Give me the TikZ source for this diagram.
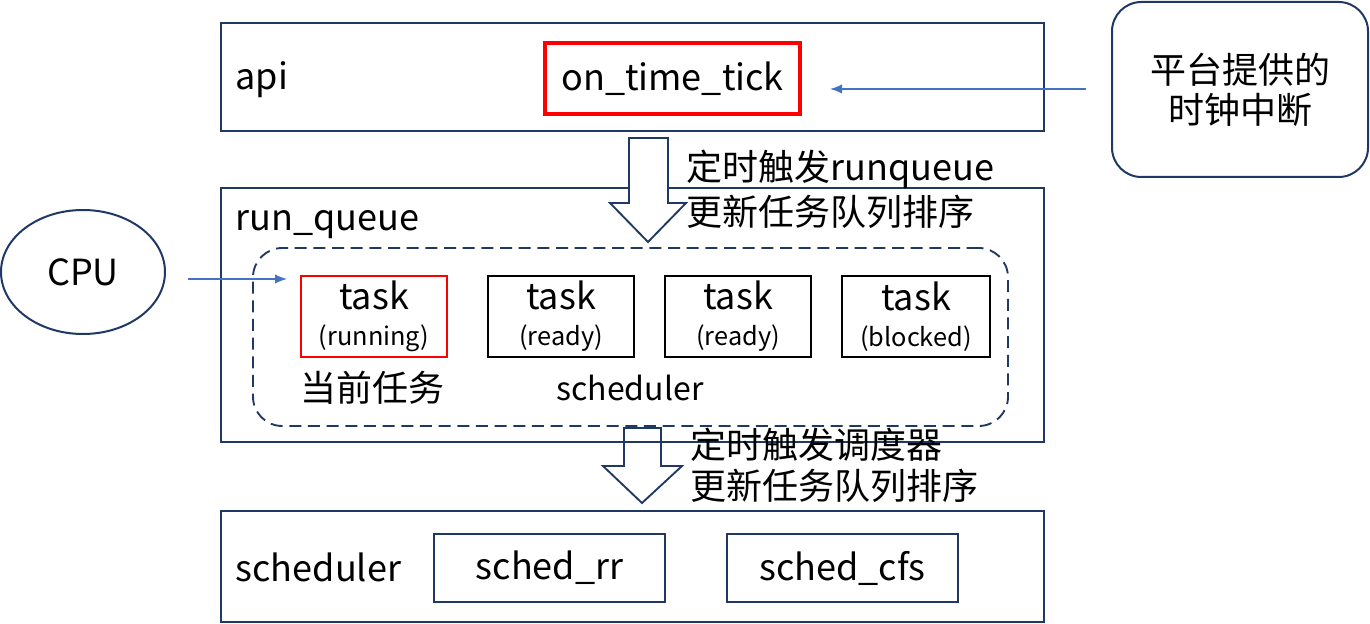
\documentclass[tikz,border=0pt]{standalone}
\usepackage{fontspec}
\setmainfont{Noto Sans CJK SC}
\usetikzlibrary{shapes.geometric,arrows.meta}
\definecolor{navy}{HTML}{203864}
\definecolor{linkblue}{HTML}{4472C4}
\definecolor{hotred}{HTML}{FF0000}
\newlength\pxu
\setlength\pxu{0.75pt}
\newcommand{\bigtxt}{\fontsize{27}{33}\selectfont}
\newcommand{\midtxt}{\fontsize{24}{28}\selectfont}
\newcommand{\smalltxt}{\fontsize{19}{22}\selectfont}
\tikzset{
  layer/.style={draw=navy,line width=2.1pt,inner sep=0pt},
  clockbox/.style={draw=navy,line width=1.5pt,rounded corners=22pt,align=center,font=\bigtxt},
  tickbox/.style={draw=hotred,line width=3.4pt,font=\bigtxt},
  poolbox/.style={draw=navy,line width=1.4pt,dashed,dash pattern=on 9pt off 5pt,rounded corners=22pt},
  taskbox/.style={draw=black,line width=1.7pt,align=center,font=\bigtxt,inner sep=0pt,minimum height=81*\pxu},
  policybox/.style={draw=navy,line width=1.5pt,font=\bigtxt,minimum width=231*\pxu,minimum height=68*\pxu},
  feed/.style={linkblue,line width=1.1pt,-{Latex[length=9pt,width=7pt]}},
  bigarrow/.style={draw=navy,line width=1.4pt,line join=miter},
  note/.style={font=\bigtxt,align=left,anchor=west}
}
\begin{document}
\begin{tikzpicture}[x=0.75pt,y=-0.75pt]
  \useasboundingbox (0,0) rectangle (1370,624);
  \node[layer,minimum width=823*\pxu,minimum height=108*\pxu] (api) at (632.5,77) {};
  \node[layer,minimum width=823*\pxu,minimum height=254*\pxu] (runq) at (632.5,315) {};
  \node[layer,minimum width=823*\pxu,minimum height=111*\pxu] (sched) at (632.5,566.5) {};
  \node[font=\bigtxt,anchor=base west] (apilbl) at (231,90) {api};
  \node[font=\bigtxt,anchor=base west] (runqlbl) at (231,230) {run\_queue};
  \node[font=\bigtxt,anchor=west] (schedlbl) at (231,567) {scheduler};
  \node[tickbox,minimum width=255*\pxu,minimum height=71*\pxu] (tick) at (672.5,78.5) {on\_time\_tick};
  \node[clockbox,minimum width=256*\pxu,minimum height=175*\pxu] (clock) at (1240,89.5) {平台提供的\\[-3pt]时钟中断};
  \coordinate (clkout) at (1086,89);
  \coordinate (tickin) at (830,89);
  \draw[feed] (clkout) -- (tickin);
  \path[bigarrow,fill=white] (629,138) -- (668,138) -- (668,203) -- (686,203) -- (648,242) -- (610,203) -- (629,203) -- cycle;
  \node[note] (note1) at (682,189) {定时触发runqueue\\[1pt]更新任务队列排序};
  \node[poolbox,minimum width=755*\pxu,minimum height=178*\pxu] (pool) at (630.5,337) {};
  \node[draw=navy,line width=1.5pt,ellipse,minimum width=164*\pxu,minimum height=124*\pxu,font=\bigtxt] (cpu) at (83,272) {CPU};
  \coordinate (cpuout) at (188,279);
  \coordinate (taskin) at (287,279);
  \draw[feed] (cpuout) -- (taskin);
  \node[taskbox,draw=hotred,minimum width=146*\pxu] (t1) at (374,316.5) {task\\[-6pt]{\smalltxt (running)}};
  \node[taskbox,minimum width=146*\pxu] (t2) at (561,316.5) {task\\[-6pt]{\smalltxt (ready)}};
  \node[taskbox,minimum width=146*\pxu] (t3) at (738,316.5) {task\\[-6pt]{\smalltxt (ready)}};
  \node[taskbox,minimum width=148*\pxu] (t4) at (916,316.5) {task\\[-6pt]{\smalltxt (blocked)}};
  \node[font=\bigtxt] (curlbl) at (372,388) {当前任务};
  \node[font=\midtxt] (poollbl) at (630,388) {scheduler};
  \path[bigarrow] (624,428) -- (661,428) -- (661,466) -- (682,466) -- (642,503) -- (603,466) -- (624,466) -- cycle;
  \node[note] (note2) at (686,465) {定时触发调度器\\[-2pt]更新任务队列排序};
  \node[policybox] (rr) at (549.5,568) {sched\_rr};
  \node[policybox] (cfs) at (842.5,568) {sched\_cfs};
\end{tikzpicture}
\end{document}
